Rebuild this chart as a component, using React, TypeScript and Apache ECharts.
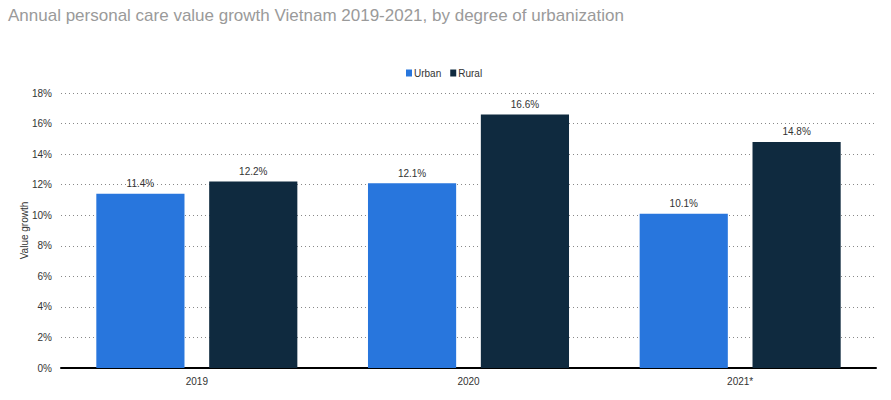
import React, { useEffect, useRef } from "react";
import * as echarts from "echarts";

const categories = ["2019", "2020", "2021*"];
const urban = [11.4, 12.1, 10.1];
const rural = [12.2, 16.6, 14.8];
const seriesNames = ["Urban", "Rural"];

export default function App() {
  const ref = useRef<HTMLDivElement>(null);
  useEffect(() => {
    const chart = echarts.init(ref.current!, null, { renderer: "svg" });
    const font = "'Liberation Sans', Arial, sans-serif";
    const labelCfg = {
      show: true,
      position: "top" as const,
      formatter: (p: any) => p.value.toFixed(1) + "%",
      color: "#333",
      fontSize: 10,
      fontFamily: font,
    };
    chart.setOption({
      animation: false,
      textStyle: { fontFamily: font },
      title: {
        text: "Annual personal care value growth Vietnam 2019-2021, by degree of urbanization",
        left: 3,
        top: 2,
        textStyle: { color: "#9a9a9a", fontSize: 17, fontWeight: "normal", fontFamily: font },
      },
      legend: {
        data: seriesNames,
        top: 63,
        left: 401,
        icon: "rect",
        itemWidth: 6,
        itemHeight: 7,
        itemGap: 9,
        textStyle: { color: "#333", fontSize: 10, fontFamily: font, padding: [0, 0, 0, -3] },
      },
      grid: { left: 61, right: 15, top: 93, bottom: 32, containLabel: false },
      xAxis: {
        type: "category",
        data: categories,
        axisLine: { lineStyle: { color: "#000", width: 2 } },
        axisTick: { show: false },
        axisLabel: { color: "#333", fontSize: 10, margin: 8, fontFamily: font },
      },
      yAxis: {
        type: "value",
        min: 0,
        max: 18,
        interval: 2,
        name: "Value growth",
        nameLocation: "middle",
        nameGap: 32,
        nameMoveOverlap: false,
        nameTextStyle: { color: "#333", fontSize: 10, fontFamily: font },
        axisLabel: { formatter: "{value}%", color: "#333", fontSize: 10, margin: 9, fontFamily: font },
        splitLine: { lineStyle: { type: [1, 3], color: "#888", width: 1 } },
        axisLine: { show: false },
        axisTick: { show: false },
      },
      series: [
        {
          name: seriesNames[0],
          type: "bar",
          data: urban,
          itemStyle: { color: "#2876dd" },
          label: labelCfg,
          barGap: "28%",
          barCategoryGap: "26%",
        },
        {
          name: seriesNames[1],
          type: "bar",
          data: rural,
          itemStyle: { color: "#0f2a3f" },
          label: labelCfg,
          barGap: "28%",
          barCategoryGap: "26%",
        },
      ],
    });
    return () => chart.dispose();
  }, []);
  return <div ref={ref} style={{ width: 891, height: 400, position: "absolute", left: 0, top: 0 }} />;
}
